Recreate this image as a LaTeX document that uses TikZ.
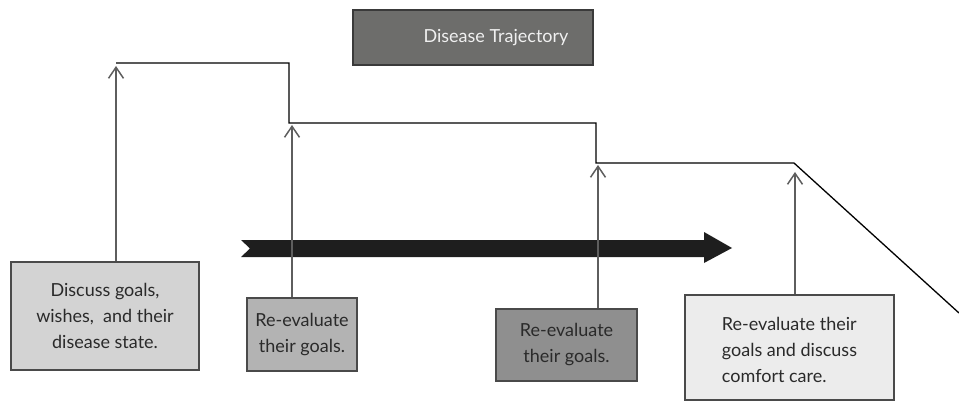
\documentclass[tikz,border=0pt]{standalone}
\usepackage{fontspec}
\setmainfont{Lato}
\usetikzlibrary{arrows.meta}
\definecolor{textgray}{HTML}{2A2A2A}
\definecolor{edgegray}{HTML}{4A4A4A}
\definecolor{pointer}{HTML}{5E5E5E}
\definecolor{titlefill}{HTML}{6D6D6B}
\definecolor{titleedge}{HTML}{3A3A3A}
\definecolor{fillA}{HTML}{D3D3D3}
\definecolor{fillB}{HTML}{B3B3B3}
\definecolor{fillC}{HTML}{8F8F8F}
\definecolor{fillD}{HTML}{ECECEC}
\definecolor{bararrow}{HTML}{1E1E1E}
\tikzset{
  stagebox/.style={draw=edgegray, line width=1.2pt, rectangle, inner sep=0pt,
    text=textgray, font=\fontsize{18}{26}\selectfont},
  stagetext/.style={text=textgray, font=\fontsize{18}{26}\selectfont, inner sep=0pt},
  titlebox/.style={draw=titleedge, fill=titlefill, line width=1.4pt, rectangle,
    inner sep=0pt},
  titletext/.style={text=white!94!black, font=\fontsize{18}{22}\selectfont, inner sep=0pt},
  pointer/.style={draw=pointer, line width=1.5pt,
    -{Straight Barb[length=11pt, width=15pt, line width=1.5pt]}},
  trajectory/.style={draw=black, line width=1.3pt, line join=miter},
}
\begin{document}
\begin{tikzpicture}[x=1pt, y=-1pt]
  \useasboundingbox (0,0) rectangle (959,401);

  % title
  \node[titlebox, minimum width=240pt, minimum height=55pt] (title) at (473,37.5) {};
  \node[titletext] (titlelabel) at (496,38) {Disease Trajectory};

  % bold time arrow with notched tail
  \fill[bararrow] (241,240) -- (704,240) -- (704,232) -- (732,248) -- (704,263)
    -- (704,257) -- (241,257) -- (250,248.5) -- cycle;

  % corners of the trajectory line
  \coordinate (t0) at (116,63);
  \coordinate (t1) at (289,63);
  \coordinate (t2) at (289,123);
  \coordinate (t3) at (596,123);
  \coordinate (t4) at (596,163);
  \coordinate (t5) at (794,163);
  \coordinate (t6) at (959,313);
  \draw[trajectory] (t0) -- (t1) -- (t2) -- (t3) -- (t4) -- (t5) -- (t6);

  % stage boxes
  \node[stagebox, fill=fillA, minimum width=188pt, minimum height=108pt, align=center]
    (s1) at (105,316) {Discuss goals,\\wishes,\ \ and their\\disease state.};
  \node[stagebox, fill=fillB, minimum width=110pt, minimum height=73pt, align=center]
    (s2) at (302,334.5) {Re-evaluate\\their goals.};
  \node[stagebox, fill=fillC, minimum width=141pt, minimum height=72pt, align=center]
    (s3) at (566.5,345) {Re-evaluate\\their goals.};
  \node[stagebox, fill=fillD, minimum width=209pt, minimum height=105pt]
    (s4) at (789.5,347.5) {};
  \node[stagetext, align=left] (s4text) at (789.5,350)
    {Re-evaluate their\\goals and discuss\\comfort care.};

  % tips of the pointers, just under the trajectory
  \coordinate (p1) at (116,66);
  \coordinate (p2) at (292,125);
  \coordinate (p3) at (598,165);
  \coordinate (p4) at (795,172);

  \draw[pointer] (s1.north -| p1) -- (p1);
  \draw[pointer] (s2.north -| p2) -- (p2);
  \draw[pointer] (s3.north -| p3) -- (p3);
  \draw[pointer] (s4.north -| p4) -- (p4);
\end{tikzpicture}
\end{document}
